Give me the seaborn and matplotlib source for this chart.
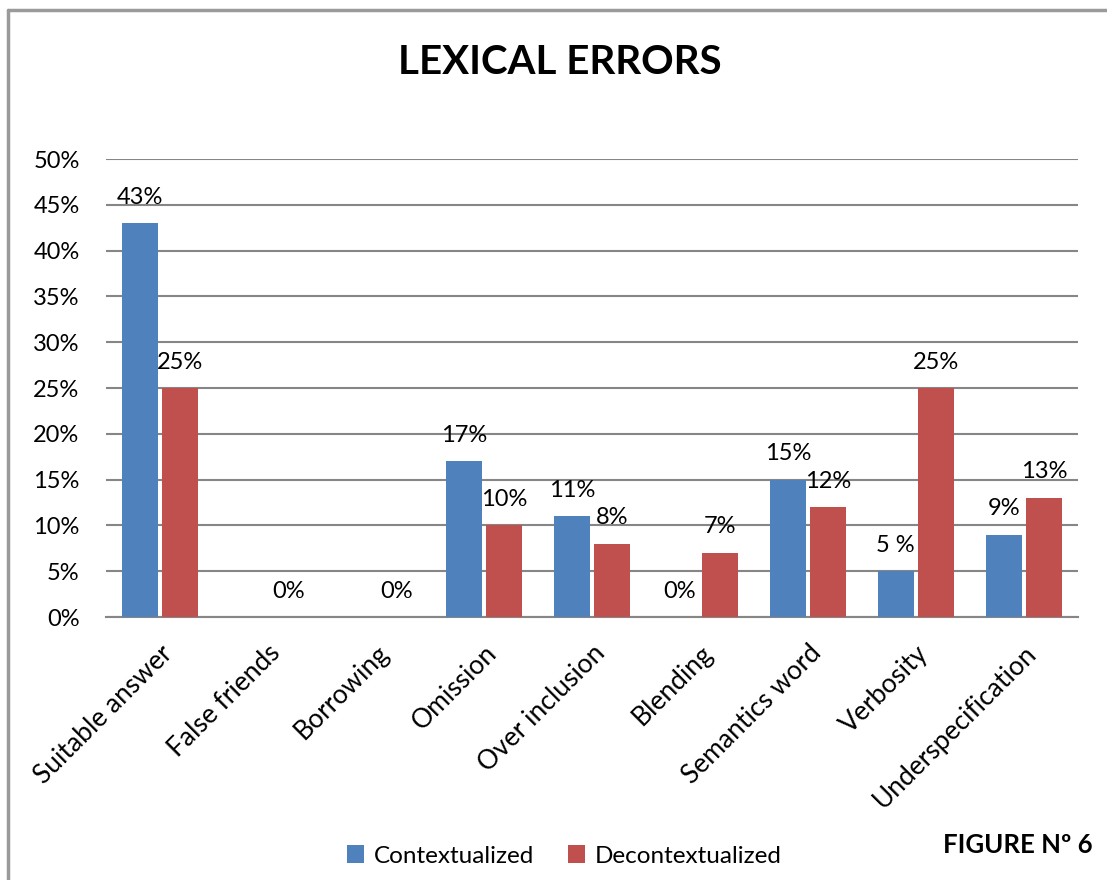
import pandas as pd
import matplotlib.pyplot as plt
import seaborn as sns
from matplotlib.lines import Line2D
from matplotlib.ticker import PercentFormatter

categories = ['Suitable answer', 'False friends', 'Borrowing', 'Omission', 'Over inclusion',
              'Blending', 'Semantics word', 'Verbosity', 'Underspecification']
contextualized = [43, 0, 0, 17, 11, 0, 15, 5, 9]
decontextualized = [25, 0, 0, 10, 8, 7, 12, 25, 13]
ctx_labels = ['43%', '', '', '17%', '11%', '0%', '15%', '5 %', '9%']
dec_labels = ['25%', '0%', '0%', '10%', '8%', '7%', '12%', '25%', '13%']
series = ['Contextualized', 'Decontextualized']

df = pd.DataFrame({
    'category': categories * 2,
    'value': contextualized + decontextualized,
    'series': [series[0]] * len(categories) + [series[1]] * len(categories),
})

sns.set_style('white', {'text.color': 'black', 'xtick.color': 'black', 'ytick.color': 'black'})
plt.rcParams['font.family'] = ['Lato', 'DejaVu Sans']

fig = plt.figure(figsize=(11.07, 8.8), dpi=100)
ax = fig.add_axes([106 / 1107, 1 - 617 / 880, 972 / 1107, 458 / 880])

sns.barplot(data=df, x='category', y='value', hue='series', order=categories,
            hue_order=series, palette=['#4F81BD', '#C0504D'], width=0.75, gap=0.1,
            saturation=1, ax=ax, legend=True, zorder=3, linewidth=0, edgecolor='none')

ax.set_ylim(0, 50)
ax.set_yticks(range(0, 51, 5))
ax.yaxis.set_major_formatter(PercentFormatter(decimals=0))
ax.grid(axis='y', color='#868686', linewidth=1.5, zorder=0)
ax.set_axisbelow(True)
for s in ['top', 'right', 'left']:
    ax.spines[s].set_visible(False)
ax.spines['bottom'].set_color('#868686')
ax.spines['bottom'].set_linewidth(1.5)
ax.set_xlabel('')
ax.set_ylabel('')
ax.tick_params(axis='y', length=0, pad=19, labelsize=17, labelcolor='black')
ax.tick_params(axis='x', length=0, pad=17, labelsize=19, labelcolor='black')
plt.setp(ax.get_xticklabels(), rotation=45, ha='right', rotation_mode='anchor')

for cont, labels in zip(ax.containers, [ctx_labels, dec_labels]):
    for bar, lab in zip(cont, labels):
        if lab:
            ax.annotate(lab, (bar.get_x() + bar.get_width() / 2, bar.get_height()),
                        xytext=(0, 14), textcoords='offset points',
                        ha='center', va='baseline', fontsize=17, color='black')

ax.get_legend().remove()
handles, labels = ax.get_legend_handles_labels()
fig.legend(handles[:2], labels[:2], loc='center', bbox_to_anchor=(564 / 1107, 1 - 856 / 880),
           ncol=2, frameon=False, fontsize=17.5, handlelength=0.7, handleheight=0.7,
           handletextpad=0.4, columnspacing=1.4, labelcolor='black')

fig.text(560 / 1107, 1 - 62 / 880, 'LEXICAL ERRORS', ha='center', va='center',
         fontsize=29, fontweight='bold', color='black')
fig.text(1093 / 1107, 1 - 845 / 880, 'FIGURE Nº 6', ha='right', va='center',
         fontsize=18.5, fontweight='bold', color='black')

# partial chart frame (left and top edges)
fig.add_artist(Line2D([8 / 1107, 8 / 1107], [0, 1 - 10 / 880], color='#9a9a9a', lw=2.5,
                      transform=fig.transFigure))
fig.add_artist(Line2D([8 / 1107, 1], [1 - 10 / 880, 1 - 10 / 880], color='#9a9a9a', lw=2.5,
                      transform=fig.transFigure))

fig.savefig('out.png', dpi=100)
